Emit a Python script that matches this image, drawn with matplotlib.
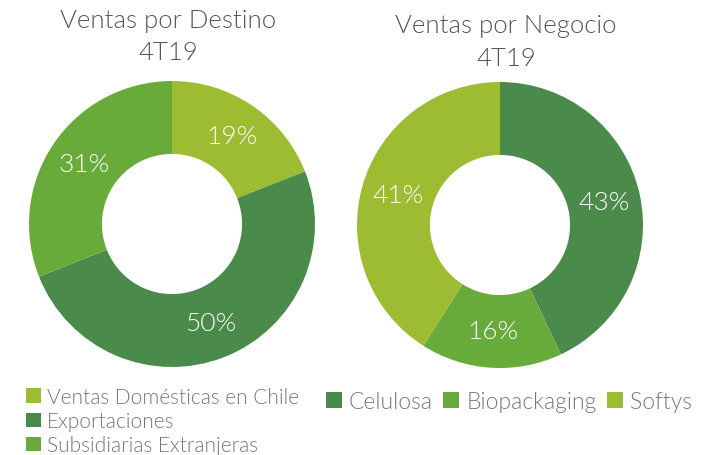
import matplotlib.pyplot as plt

plt.rcParams['font.family'] = ['Lato', 'DejaVu Sans']

# Sales split, 4T19
destino_labels = ['Ventas Domésticas en Chile', 'Exportaciones', 'Subsidiarias Extranjeras']
destino_values = [19, 50, 31]

negocio_labels = ['Celulosa', 'Biopackaging', 'Softys']
negocio_values = [43, 16, 41]

light_green = '#9dbc31'
dark_green = '#4a8a4b'
mid_green = '#69ab3b'

destino_colors = [light_green, dark_green, mid_green]
negocio_colors = [dark_green, mid_green, light_green]

fig = plt.figure(figsize=(7.2, 4.56), dpi=100)
W, H = 720, 456
R = 143  # outer radius in pixels
WEIGHT = 300


def donut(cx, cy, values, colors):
    ax = fig.add_axes([(cx - R) / W, (H - cy - R) / H, 2 * R / W, 2 * R / H])
    wedges, _, pcts = ax.pie(values, colors=colors, startangle=90, counterclock=False,
                             radius=1, wedgeprops=dict(width=0.51, linewidth=0),
                             autopct=lambda p: f'{p:.0f}%', pctdistance=0.745)
    for t in pcts:
        t.set_color('white')
        t.set_fontsize(19)
        t.set_fontweight(WEIGHT)
    ax.set_xlim(-1, 1)
    ax.set_ylim(-1, 1)
    ax.set_aspect('equal')
    ax.axis('off')
    return wedges


w1 = donut(172, 225, destino_values, destino_colors)
w2 = donut(500, 226, negocio_values, negocio_colors)

title_color = '#555555'
title_kw = dict(ha='center', va='center', fontsize=18.5, color=title_color, fontweight=WEIGHT)
fig.text(168 / W, 1 - 21 / H, 'Ventas por Destino', **title_kw)
fig.text(168 / W, 1 - 53 / H, '4T19', **title_kw)
fig.text(506 / W, 1 - 26 / H, 'Ventas por Negocio', **title_kw)
fig.text(506 / W, 1 - 59 / H, '4T19', **title_kw)

legend_kw = dict(frameon=False, handlelength=0.7, handleheight=0.7,
                 handletextpad=0.3, labelcolor='#777777', borderaxespad=0, borderpad=0,
                 prop={'family': ['Lato', 'DejaVu Sans'], 'weight': WEIGHT, 'size': 15})
fig.legend(w1, destino_labels, loc='upper left', bbox_to_anchor=(26 / W, 1 - 388 / H),
           labelspacing=0.2, **legend_kw)
legend_kw['prop'] = {'family': ['Lato', 'DejaVu Sans'], 'weight': WEIGHT, 'size': 16.5}
fig.legend(w2, negocio_labels, loc='upper left', bbox_to_anchor=(326 / W, 1 - 392 / H),
           ncol=3, columnspacing=0.45, **legend_kw)

fig.savefig('out.png', dpi=100, facecolor='white')
